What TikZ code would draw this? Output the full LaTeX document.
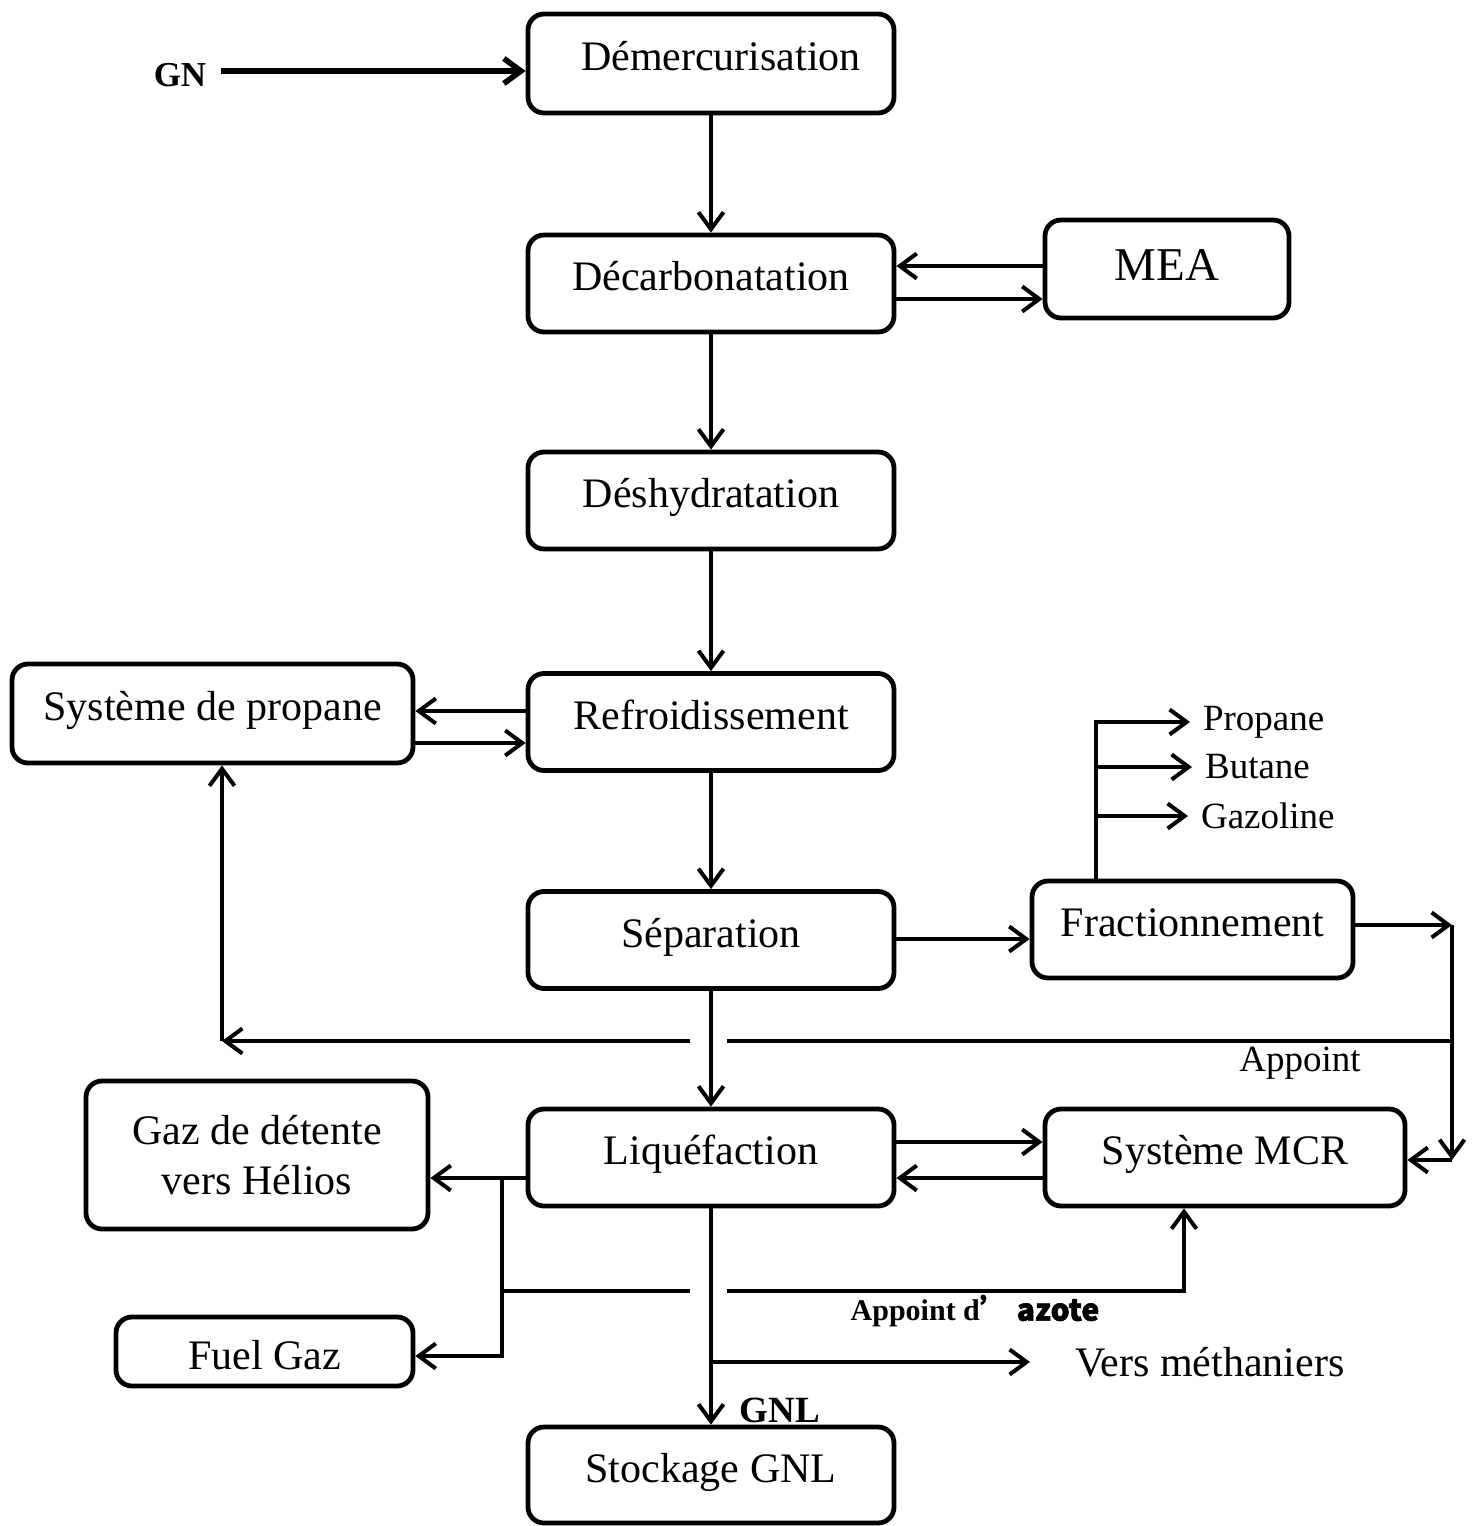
\documentclass[tikz,border=0pt]{standalone}
\usepackage{fontspec}
\setmainfont{Liberation Serif}
\newfontfamily\cjk[FakeBold=2]{Noto Sans CJK SC}
\usetikzlibrary{arrows.meta}
\begin{document}
\begin{tikzpicture}[x=0.5pt,y=-0.5pt,
  box/.style={draw, line width=2.4pt, rounded corners=8pt, inner sep=0pt,
    font=\fontsize{21}{25}\selectfont, text height=15pt, text depth=8pt},
  arr/.style={line width=2pt, -{Straight Barb[length=8.5pt,width=12.5pt]}},
  ln/.style={line width=2pt},
  lab/.style={font=\fontsize{18.5}{22}\selectfont},
]
\useasboundingbox (0,0) rectangle (1477,1526);

% boxes
\node[box, minimum width=183pt, minimum height=49.5pt] (dem) at (711,63.5) {\hspace*{10pt}Démercurisation};
\node[box, minimum width=183pt, minimum height=48.5pt] (dec) at (711,283.5) {Décarbonatation};
\node[box, minimum width=183pt, minimum height=48.5pt] (des) at (711,500.5) {Déshydratation};
\node[box, minimum width=183pt, minimum height=48.5pt] (ref) at (711,722) {Refroidissement};
\node[box, minimum width=183pt, minimum height=48.5pt] (sep) at (711,940) {Séparation};
\node[box, minimum width=183pt, minimum height=48.5pt] (liq) at (711,1157.5) {Liquéfaction};
\node[font=\bfseries\fontsize{18.5}{22}\selectfont] (gnl) at (780,1410) {GNL};
\node[box, minimum width=183pt, minimum height=48pt] (sto) at (711,1475) {Stockage GNL};
\node[box, minimum width=122pt, minimum height=49pt, font=\fontsize{23.5}{28}\selectfont, text height=16.5pt, text depth=5pt] (mea) at (1167,269) {MEA};
\node[box, minimum width=200.5pt, minimum height=49.5pt] (prop) at (212.5,713.5) {Système de propane};
\node[box, minimum width=160.5pt, minimum height=48.5pt] (fra) at (1192.5,929.5) {Fractionnement};
\node[box, minimum width=180pt, minimum height=48.5pt] (mcr) at (1225,1157.5) {Système MCR};
\node[box, minimum width=171pt, minimum height=74pt, align=center, text height=, text depth=] (gaz) at (257,1155) {Gaz de détente\\vers Hélios};
\node[box, minimum width=148.5pt, minimum height=34.5pt, text height=18pt, text depth=0pt] (fuel) at (264.5,1351.5) {Fuel Gaz};

% labels
\node[font=\bfseries\fontsize{17.5}{20}\selectfont] (gn) at (180,75) {GN};
\node[lab, anchor=west] (propane) at (1196,722) {Propane};
\node[lab, anchor=west] (butane) at (1198,767) {Butane};
\node[lab, anchor=west] (gazoline) at (1194,816) {Gazoline};
\node[lab] (app) at (1300,1063) {Appoint};
\node[font=\fontsize{15}{18}\selectfont] (azote) at (975,1311) {\bfseries Appoint d\cjk ’ azote};
\node[font=\fontsize{21}{25}\selectfont, anchor=west] (vm) at (1068,1362) {Vers méthaniers};

% main column
\draw[arr, line width=2.8pt, shorten <=4pt] (gn.east |- 0,71) -- (dem.west |- 0,71);
\draw[arr] (dem) -- (dec);
\draw[arr] (dec) -- (des);
\draw[arr] (des) -- (ref);
\draw[arr] (ref) -- (sep);
\draw[arr] (sep) -- (liq);
\draw[arr] (liq) -- (sto);

% side loops
\draw[arr] (mea.west |- 0,266) -- (dec.east |- 0,266);
\draw[arr] (dec.east |- 0,299) -- (mea.west |- 0,299);
\draw[arr] (ref.west |- 0,711) -- (prop.east |- 0,711);
\draw[arr] (prop.east |- 0,743) -- (ref.west |- 0,743);
\draw[arr] (sep.east |- 0,939) -- (fra.west |- 0,939);
\draw[arr] (liq.east |- 0,1142) -- (mcr.west |- 0,1142);
\draw[arr] (mcr.west |- 0,1178) -- (liq.east |- 0,1178);

% fractionnement products
\coordinate (fk) at (1096,0);
\draw[arr, shorten >=3pt] (fra.north -| fk) |- (propane.west);
\draw[arr, shorten >=3pt] (fk |- butane.west) -- (butane.west);
\draw[arr, shorten >=3pt] (fk |- gazoline.west) -- (gazoline.west);

% appoint loop
\coordinate (rt) at (1452,925);
\coordinate (ra) at (1452,1041);
\coordinate (rb) at (1452,1160);
\coordinate (pc) at (222,1041);
\coordinate (g1l) at (690,1041);
\coordinate (g1r) at (727,1041);
\draw[arr] (fra.east |- rt) -- (rt);
\draw[arr] (rt) -- (rb);
\draw[arr] (rb) -- (mcr.east |- rb);
\draw[ln] (ra) -- (g1r);
\draw[arr] (g1l) -- (pc);
\draw[arr] (pc) -- (pc |- prop.south);

% liquefaction outputs
\coordinate (bx) at (502,1178);
\coordinate (bf) at (502,1356);
\draw[arr] (liq.west |- bx) -- (gaz.east |- bx);
\draw[arr] (bx) -- (bf) -- (fuel.east |- bf);
\coordinate (a1) at (502,1291);
\coordinate (a2) at (690,1291);
\coordinate (a3) at (727,1291);
\coordinate (a4) at (1184,1291);
\draw[ln] (a1) -- (a2);
\draw[arr] (a3) -- (a4) -- (a4 |- mcr.south);
\coordinate (vb) at (711,1362);
\draw[arr, shorten >=19pt] (vb) -- (vm.west);
\end{tikzpicture}
\end{document}
